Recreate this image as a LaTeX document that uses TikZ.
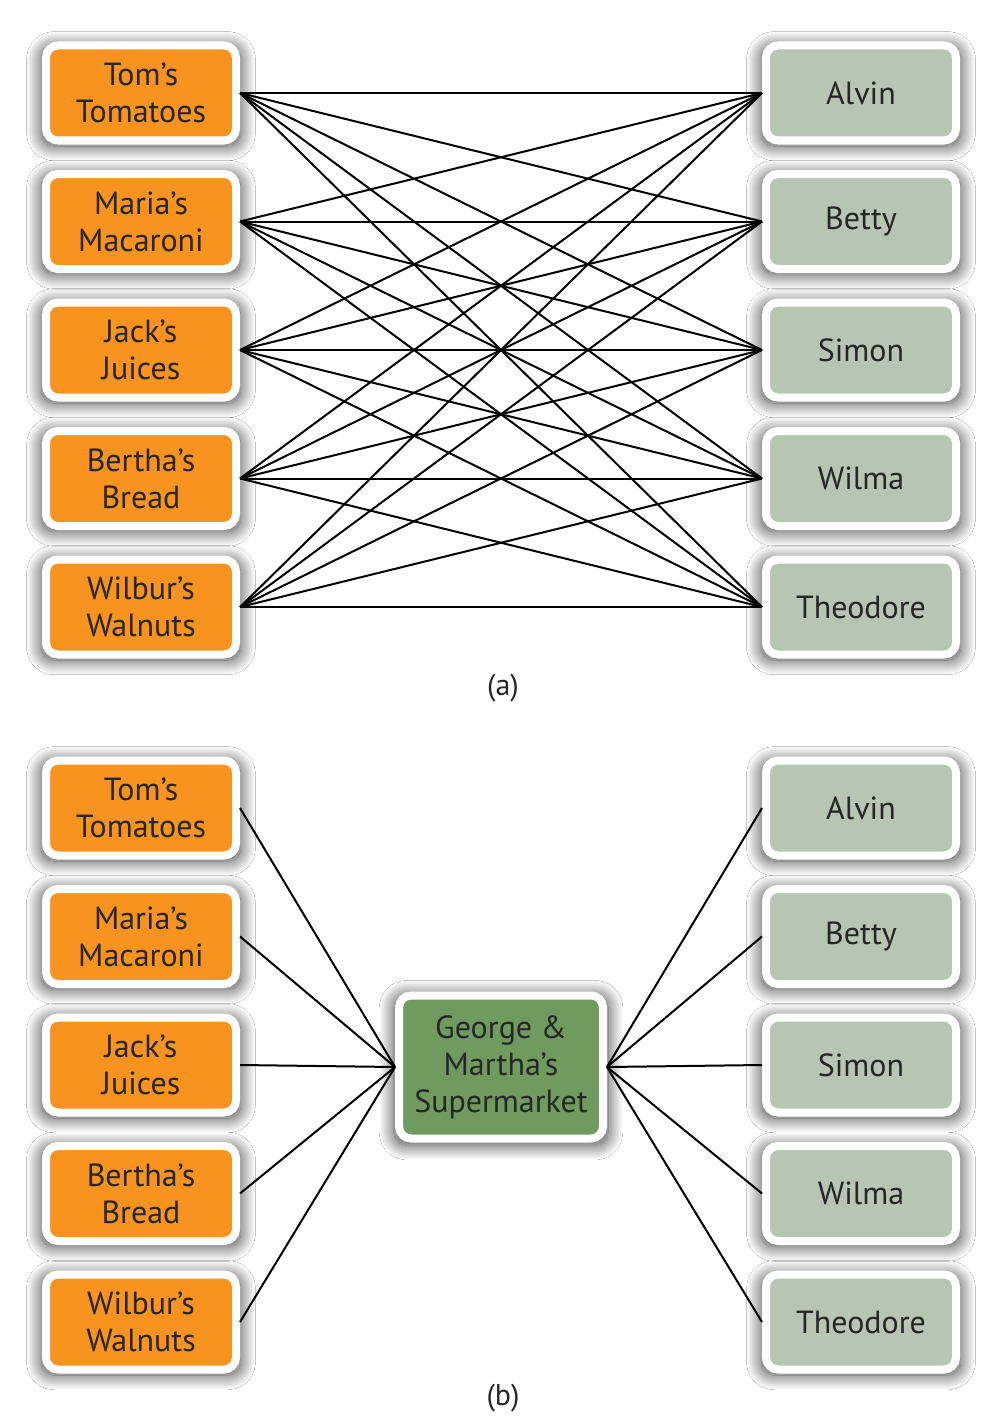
\documentclass[tikz,border=0pt]{standalone}
\usepackage{fontspec}
\setmainfont{PT Sans}
\usepackage{xcolor}
\usetikzlibrary{positioning,shadows.blur}
\definecolor{makerorange}{HTML}{F7931E}
\definecolor{buyergreen}{HTML}{B6C6B2}
\definecolor{hubgreen}{HTML}{6F9B5F}
\definecolor{boxtext}{HTML}{262626}

\begin{document}
\begin{tikzpicture}[x=1pt, y=-1pt, node distance=25.5pt and 4cm,
  box/.style={rounded corners=12pt, draw=white, line width=8pt, minimum width=190pt, minimum height=95pt, inner sep=0pt, align=center, text=boxtext, font=\fontsize{32}{37}\selectfont, blur shadow={shadow xshift=0pt, shadow yshift=-3pt, shadow blur radius=14pt, shadow blur steps=24, shadow opacity=75, shadow scale=1.05}},
  maker/.style={box, fill=makerorange},
  buyer/.style={box, fill=buyergreen},
  hub/.style={box, fill=hubgreen, minimum width=204pt, minimum height=143pt},
  every edge/.append style={line width=2pt, draw=black}]

\useasboundingbox (0,0) rectangle (984,1418);
\fill[white] (0,0) rectangle (984,1418);

% (a) everybody trades with everybody
\node[maker] (L1) at (141,93) {Tom's\\Tomatoes};
\node[maker] (L2) [below=of L1] {Maria's\\Macaroni};
\node[maker] (L3) [below=of L2] {Jack's\\Juices};
\node[maker] (L4) [below=of L3] {Bertha's\\Bread};
\node[maker] (L5) [below=of L4] {Wilbur's\\Walnuts};

\node[buyer] (R1) at (861,93) {Alvin};
\node[buyer] (R2) [below=of R1] {Betty};
\node[buyer] (R3) [below=of R2] {Simon};
\node[buyer] (R4) [below=of R3] {Wilma};
\node[buyer] (R5) [below=of R4] {Theodore};

\node[font=\fontsize{30}{34}\selectfont, text=boxtext] (capa) at (503,688) {(a)};

\foreach \i in {1,...,5}
  \foreach \j in {1,...,5}
    \path (L\i.east) edge (R\j.west);

% (b) everything goes through the supermarket
\node[maker] (l1) at (141,808) {Tom's\\Tomatoes};
\node[maker] (l2) [below=of l1] {Maria's\\Macaroni};
\node[maker] (l3) [below=of l2] {Jack's\\Juices};
\node[maker] (l4) [below=of l3] {Bertha's\\Bread};
\node[maker] (l5) [below=of l4] {Wilbur's\\Walnuts};

\node[buyer] (r1) at (861,808) {Alvin};
\node[buyer] (r2) [below=of r1] {Betty};
\node[buyer] (r3) [below=of r2] {Simon};
\node[buyer] (r4) [below=of r3] {Wilma};
\node[buyer] (r5) [below=of r4] {Theodore};

\node[hub] (gm) at (501,1067) {George \&\\Martha's\\Supermarket};

\node[font=\fontsize{30}{34}\selectfont, text=boxtext] (capb) at (503,1398) {(b)};

\foreach \i in {1,...,5}
  \path (l\i.east) edge (gm.west)
        (gm.east) edge (r\i.west);
\end{tikzpicture}
\end{document}
